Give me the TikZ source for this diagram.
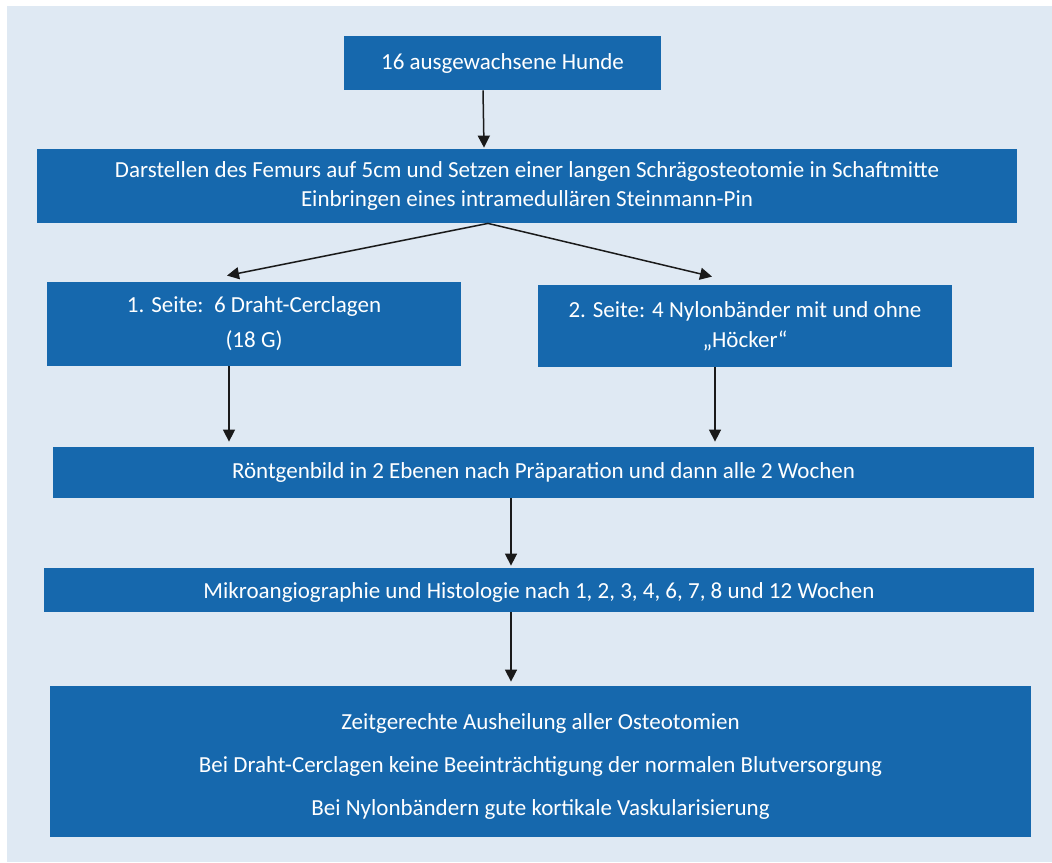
\documentclass[tikz,border=0pt]{standalone}
\usepackage{fontspec}
\setmainfont{Carlito}
\usetikzlibrary{arrows.meta, calc, positioning}
\definecolor{hgblau}{HTML}{DFE9F3}
\definecolor{kastenblau}{HTML}{1668AD}
\definecolor{pfeilfarbe}{HTML}{1A1A1A}
\tikzset{
    kasten/.style={
        rectangle, fill=kastenblau, text=white, align=center, inner sep=0pt,
        font=\fontsize{11.5}{14.5}\selectfont
    },
    pfeil/.style={
        draw=pfeilfarbe, line width=0.75pt,
        -{Triangle[length=6pt, width=6pt]}
    }
}

\begin{document}
\begin{tikzpicture}[x=0.5pt, y=-0.5pt]
    \useasboundingbox (0,0) rectangle (1052,862);
    \fill[hgblau] (7,6) rectangle (1052,862);
    % Kaesten
    \node[kasten, minimum width=158.5pt, minimum height=27pt] (hunde) at (502.5,63)
        {16 ausgewachsene Hunde};
    \node[kasten, minimum width=490pt, minimum height=37pt] (femur) at (527,186)
        {Darstellen des Femurs auf 5cm und Setzen einer langen Schrägosteotomie in Schaftmitte\\
         Einbringen eines intramedullären Steinmann-Pin};
    \node[kasten, minimum width=207pt, minimum height=42pt] (seite1) at (254,324)
        {1. Seite:\ \ 6 Draht-Cerclagen\\[3pt] (18 G)};
    \node[kasten, minimum width=207pt, minimum height=41pt] (seite2) at (745,326)
        {2. Seite: 4 Nylonbänder mit und ohne\\[0.5pt] „Höcker“};
    \node[kasten, minimum width=490.5pt, minimum height=25.5pt] (roentgen) at (543.5,472.5)
        {Röntgenbild in 2 Ebenen nach Präparation und dann alle 2 Wochen};
    \node[kasten, minimum width=495pt, minimum height=22pt] (mikro) at (539,590)
        {\rule{0pt}{10pt}Mikroangiographie und Histologie nach 1, 2, 3, 4, 6, 7, 8 und 12 Wochen};
    \node[kasten, minimum width=490.5pt, minimum height=75.5pt] (ergebnis) at (540.5,761.5)
        {\rule{0pt}{13pt}Zeitgerechte Ausheilung aller Osteotomien\\[7pt]
         Bei Draht-Cerclagen keine Beeinträchtigung der normalen Blutversorgung\\[7pt]
         Bei Nylonbändern gute kortikale Vaskularisierung};
    % Pfeile
    \draw[pfeil] ([xshift=-9.75pt]hunde.south) -- ([xshift=-21.5pt, yshift=0.5pt]femur.north);
    \draw[pfeil] ([xshift=-19.5pt]femur.south) -- ([xshift=-13.5pt, yshift=3pt]seite1.north);
    \draw[pfeil] ([xshift=-19.5pt]femur.south) -- ([xshift=-16.5pt, yshift=4pt]seite2.north);
    \draw[pfeil] ([xshift=-12.5pt]seite1.south) -- ([xshift=-157.25pt, yshift=2.5pt]roentgen.north);
    \draw[pfeil] ([xshift=-15pt]seite2.south) -- ([xshift=85.75pt, yshift=2.5pt]roentgen.north);
    \draw[pfeil] ([xshift=-16.25pt]roentgen.south) -- ([xshift=-14pt, yshift=1pt]mikro.north);
    \draw[pfeil] ([xshift=-14pt]mikro.south) -- ([xshift=-14.75pt, yshift=2pt]ergebnis.north);
\end{tikzpicture}
\end{document}
